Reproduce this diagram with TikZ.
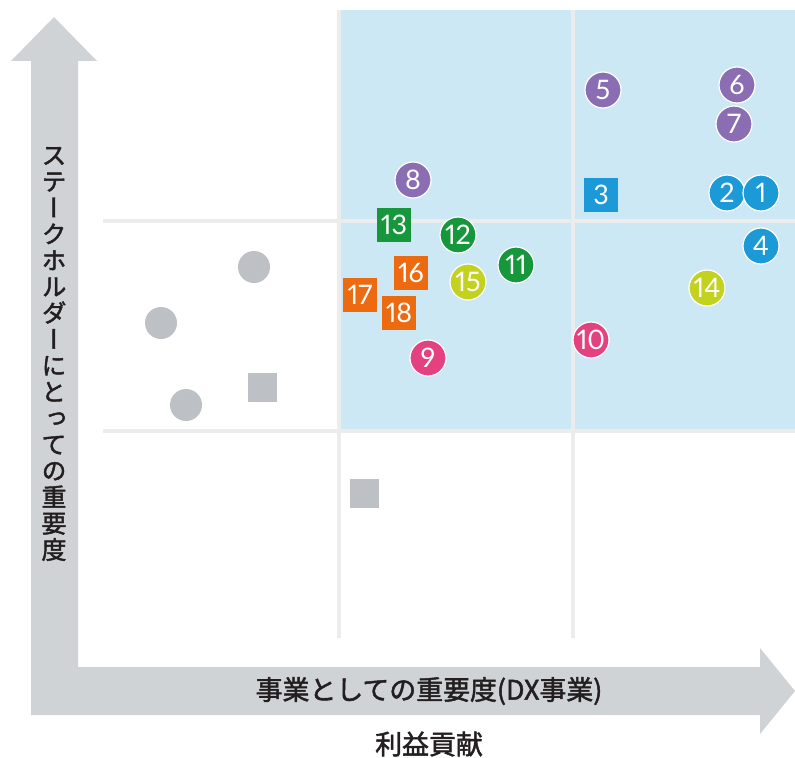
\documentclass[tikz,border=0pt]{standalone}
\usepackage{fontspec}
\setmainfont[Numbers=Proportional]{Lato}
\newfontfamily\jafont[FakeBold=1.8]{Noto Sans CJK JP}
\newfontfamily\jatate[RawFeature=+vert, FakeBold=1.8]{Noto Sans CJK JP}
\usepackage{tikz}
\usepackage{xcolor}

\definecolor{areablue}{HTML}{CDE8F5}
\definecolor{gridgray}{HTML}{ECECEC}
\definecolor{axisgray}{HTML}{D0D3D5}
\definecolor{markgray}{HTML}{BDC1C5}
\definecolor{mpurple}{HTML}{8A6DB3}
\definecolor{mblue}{HTML}{1B9AD7}
\definecolor{mgreen}{HTML}{17973B}
\definecolor{mlime}{HTML}{C3D21E}
\definecolor{morange}{HTML}{EC6B10}
\definecolor{mpink}{HTML}{E3417F}
\definecolor{labeltext}{HTML}{231F20}

\tikzset{
    dot/.style={circle, fill=#1, draw=white, line width=1.2bp, minimum size=36bp,
        inner sep=0pt, text=white, font=\fontsize{27}{27}\selectfont},
    box/.style={rectangle, fill=#1, minimum size=34bp, inner sep=0pt,
        text=white, font=\fontsize{27}{27}\selectfont},
    graydot/.style={circle, fill=markgray, minimum size=32bp, inner sep=0pt},
    graybox/.style={rectangle, fill=markgray, minimum size=29bp, inner sep=0pt},
    gridline/.style={draw=gridgray, line width=4bp},
    axislabel/.style={text=labeltext, font=\jafont\fontsize{27}{27}\selectfont}
}

\begin{document}
\begin{tikzpicture}[x=1bp, y=-1bp]
    \useasboundingbox (0, 0) rectangle (795, 758);
    % shaded area and grid
    \fill[areablue] (341, 10) rectangle (795, 430);
    \draw[gridline] (339, 10) -- (339, 638);
    \draw[gridline] (573, 10) -- (573, 638);
    \draw[gridline] (103, 221) -- (795, 221);
    \draw[gridline] (103, 431) -- (795, 431);
    % axes
    \fill[axisgray] (54, 17) -- (97, 61) -- (78, 61) -- (78, 667) -- (760, 667)
        -- (760, 648) -- (795, 691) -- (760, 734) -- (760, 715) -- (31, 715)
        -- (31, 61) -- (11, 61) -- cycle;
    \node[axislabel] (xlabel) at (429, 691) {事業としての重要度(DX事業)};
    \node[axislabel] (xsub) at (429, 744) {利益貢献};
    \node[text=labeltext, align=center, inner sep=0pt,
        font=\jatate\fontsize{25}{26.4}\selectfont] (ylabel) at (54, 354)
        {ス\\テ\\ー\\ク\\ホ\\ル\\ダ\\ー\\に\\と\\っ\\て\\の\\重\\要\\度};
    % other items
    \node[graydot] (ga) at (254, 267) {};
    \node[graydot] (gb) at (161, 323) {};
    \node[graydot] (gc) at (186, 405) {};
    \node[graybox] (gd) at (262, 387) {};
    \node[graybox] (ge) at (364, 493) {};
    % numbered items
    \node[dot=mblue] (m2) at (727, 193) {2};
    \node[dot=mblue] (m1) at (761, 193) {1};
    \node[box=mblue] (m3) at (601, 195) {3};
    \node[dot=mblue] (m4) at (761, 246) {4};
    \node[dot=mpurple] (m5) at (603, 90) {5};
    \node[dot=mpurple] (m6) at (737, 85) {6};
    \node[dot=mpurple] (m7) at (734, 124) {7};
    \node[dot=mpurple] (m8) at (413, 180) {8};
    \node[dot=mpink] (m9) at (428, 358) {9};
    \node[dot=mpink] (m10) at (591, 340) {10};
    \node[dot=mgreen] (m11) at (516, 265) {11};
    \node[dot=mgreen] (m12) at (458, 235) {12};
    \node[box=mgreen] (m13) at (394, 225) {13};
    \node[dot=mlime] (m14) at (707, 288) {14};
    \node[dot=mlime] (m15) at (468, 282) {15};
    \node[box=morange] (m16) at (411, 273) {16};
    \node[box=morange] (m17) at (360, 295) {17};
    \node[box=morange] (m18) at (399, 313) {18};
\end{tikzpicture}
\end{document}
